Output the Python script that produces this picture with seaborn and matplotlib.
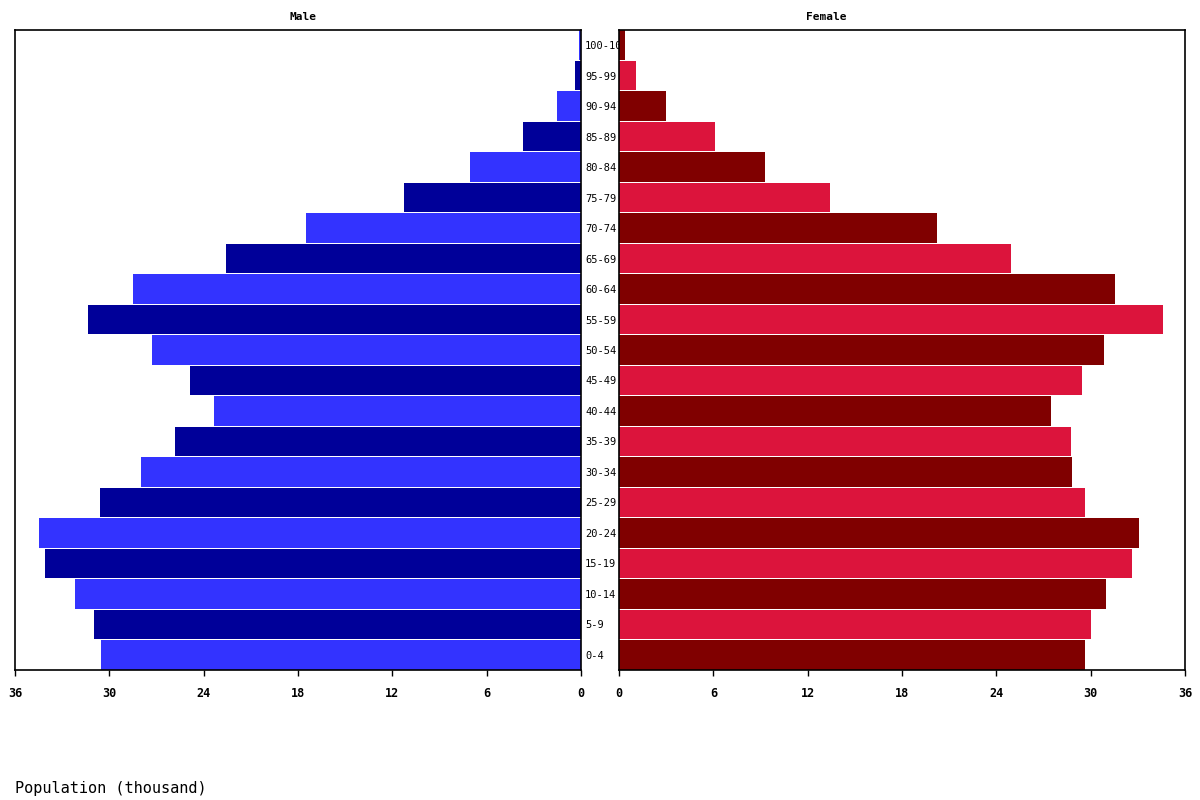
import matplotlib
matplotlib.use("Agg")
import matplotlib.pyplot as plt
import seaborn as sns
import pandas as pd

# age groups, top to bottom
age_groups = ["100-104", "95-99", "90-94", "85-89", "80-84", "75-79", "70-74",
              "65-69", "60-64", "55-59", "50-54", "45-49", "40-44", "35-39",
              "30-34", "25-29", "20-24", "15-19", "10-14", "5-9", "0-4"]
male = [0.13, 0.38, 1.53, 3.69, 7.06, 11.26, 17.49, 22.58, 28.5, 31.36, 27.29,
        24.87, 23.35, 25.83, 27.99, 30.6, 34.48, 34.1, 32.19, 30.98, 30.53]
female = [0.38, 1.08, 2.99, 6.11, 9.29, 13.42, 20.23, 24.94, 31.55, 34.6, 30.85,
          29.45, 27.48, 28.75, 28.82, 29.64, 33.08, 32.63, 30.98, 30.03, 29.64]
x_ticks = [0, 6, 12, 18, 24, 30, 36]

male_colors = ["#3333FF" if i % 2 == 0 else "#000099" for i in range(len(age_groups))]
female_colors = ["#800000" if i % 2 == 0 else "#DC143C" for i in range(len(age_groups))]

sns.set_theme(style="white")
plt.rcParams["font.family"] = ["DejaVu Sans Mono"]
plt.rcParams["text.color"] = "black"
plt.rcParams["xtick.color"] = "black"
plt.rcParams["ytick.color"] = "black"
plt.rcParams["axes.labelcolor"] = "black"

df = pd.DataFrame({"age": age_groups, "male": male, "female": female})

fig = plt.figure(figsize=(12, 8), dpi=100)
ax_m = fig.add_axes([15/1200, 1-670/800, 566/1200, 640/800])
ax_f = fig.add_axes([619/1200, 1-670/800, 566/1200, 640/800])

sns.barplot(data=df, x="male", y="age", hue="age", palette=male_colors,
            order=age_groups, hue_order=age_groups, orient="h", width=0.97,
            legend=False, ax=ax_m, linewidth=0, saturation=1)
sns.barplot(data=df, x="female", y="age", hue="age", palette=female_colors,
            order=age_groups, hue_order=age_groups, orient="h", width=0.97,
            legend=False, ax=ax_f, linewidth=0, saturation=1)

for ax in (ax_m, ax_f):
    ax.set_ylim(len(age_groups) - 0.5, -0.5)
    ax.set_xticks(x_ticks)
    ax.set_xticklabels([str(t) for t in x_ticks], fontsize=8.5, fontweight="bold",
                       color="black")
    ax.tick_params(axis="x", direction="out", length=4, width=1, color="black",
                   bottom=True, pad=8)
    ax.set_xlabel("")
    ax.set_ylabel("")
    for s in ax.spines.values():
        s.set_visible(True)
        s.set_color("black")
        s.set_linewidth(1.2)

ax_m.set_xlim(36, 0)
ax_f.set_xlim(0, 36)

ax_m.yaxis.tick_right()
ax_m.set_yticks(range(len(age_groups)))
ax_m.set_yticklabels(age_groups, fontsize=7.5, color="black")
ax_m.tick_params(axis="y", length=0, pad=3, right=True, left=False)
ax_f.set_yticks([])

fig.text(303/1200, 1-17/800, "Male", fontsize=8, fontweight="bold",
         ha="center", va="center", color="black")
fig.text(826/1200, 1-17/800, "Female", fontsize=8, fontweight="bold",
         ha="center", va="center", color="black")

fig.text(15/1200, 1-788/800, "Population (thousand)", fontsize=11,
         ha="left", va="center", color="black")

fig.savefig("out.png", dpi=100, facecolor="white")
